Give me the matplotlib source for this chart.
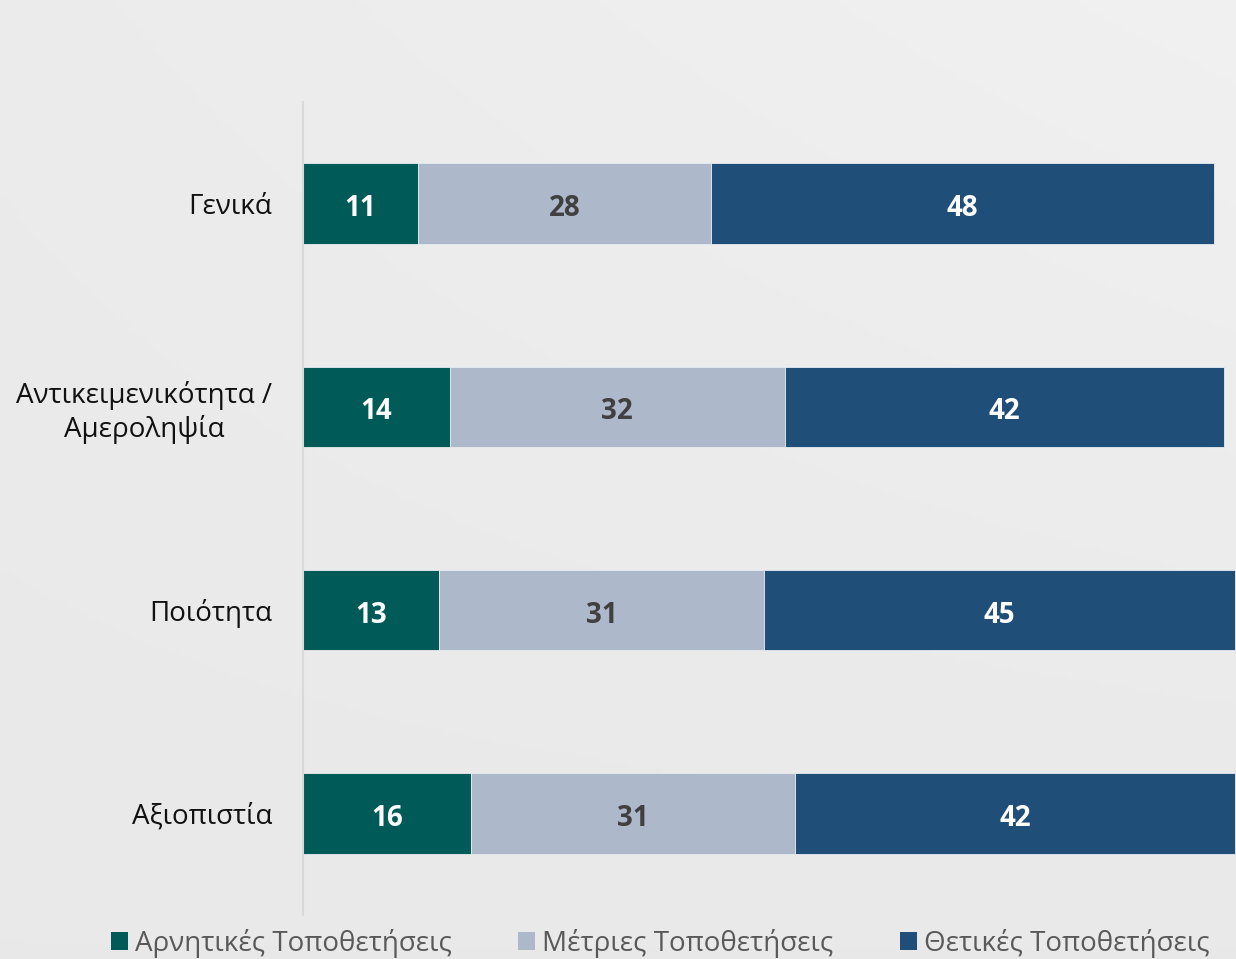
import matplotlib
matplotlib.use("Agg")
import matplotlib.pyplot as plt
import numpy as np
from matplotlib.patches import Patch

categories = ["Γενικά", "Αντικειμενικότητα /\nΑμεροληψία", "Ποιότητα", "Αξιοπιστία"]
negative = [11, 14, 13, 16]
moderate = [28, 32, 31, 31]
positive = [48, 42, 45, 42]
series_names = ["Αρνητικές Τοποθετήσεις", "Μέτριες Τοποθετήσεις", "Θετικές Τοποθετήσεις"]
colors = ["#005a57", "#adb8cb", "#1f4e78"]
text_colors = ["white", "#404040", "white"]

plt.rcParams['font.family'] = ['Open Sans', 'DejaVu Sans']

fig = plt.figure(figsize=(12.36, 9.59), dpi=100)

# subtle background gradient
bg = fig.add_axes([0, 0, 1, 1], zorder=-10)
yy, xx = np.mgrid[0:1:200j, 0:1:200j]
grad = 0.92 + 0.02 * xx * (1 - yy) - 0.01 * yy
bg.imshow(grad, cmap="gray", vmin=0, vmax=1, aspect="auto", extent=[0, 1, 0, 1])
bg.axis("off")

W, H = 1236, 959
ax = fig.add_axes([303 / W, 1 - 915 / H, 1 - 303 / W, (915 - 102) / H])
ax.set_facecolor("none")

y = np.arange(len(categories))
series = [negative, moderate, positive]
left = np.zeros(len(categories))
for vals, c, tc in zip(series, colors, text_colors):
    vals = np.array(vals, dtype=float)
    ax.barh(y, vals, left=left, height=0.395, color=c, edgecolor="#e8ecf2", linewidth=0.6)
    for yi, l, v in zip(y, left, vals):
        ax.text(l + v / 2, yi + 0.025, f"{int(v)}", ha="center", va="center",
                color=tc, fontsize=20, fontweight="bold")
    left += vals

ax.set_xlim(0, 89.1)
ax.set_ylim(3.5, -0.5)
ax.set_yticks(y)
ax.set_yticklabels(categories, fontsize=20, color="#111111", multialignment="center")
ax.tick_params(axis="y", length=0, pad=22)
ax.set_xticks([])
for s in ["top", "right", "bottom"]:
    ax.spines[s].set_visible(False)
ax.spines["left"].set_color("#d9d9d9")
ax.spines["left"].set_linewidth(1.5)

handles = [Patch(facecolor=c, edgecolor="none") for c in colors]
fig.legend(handles, series_names, loc="center", bbox_to_anchor=(660 / W, 1 - 943 / H),
           ncol=3, frameon=False, fontsize=20, labelcolor="#595959",
           handlelength=0.61, handleheight=0.61, handletextpad=0.25, columnspacing=2.4)

fig.savefig("out.png", dpi=100)
